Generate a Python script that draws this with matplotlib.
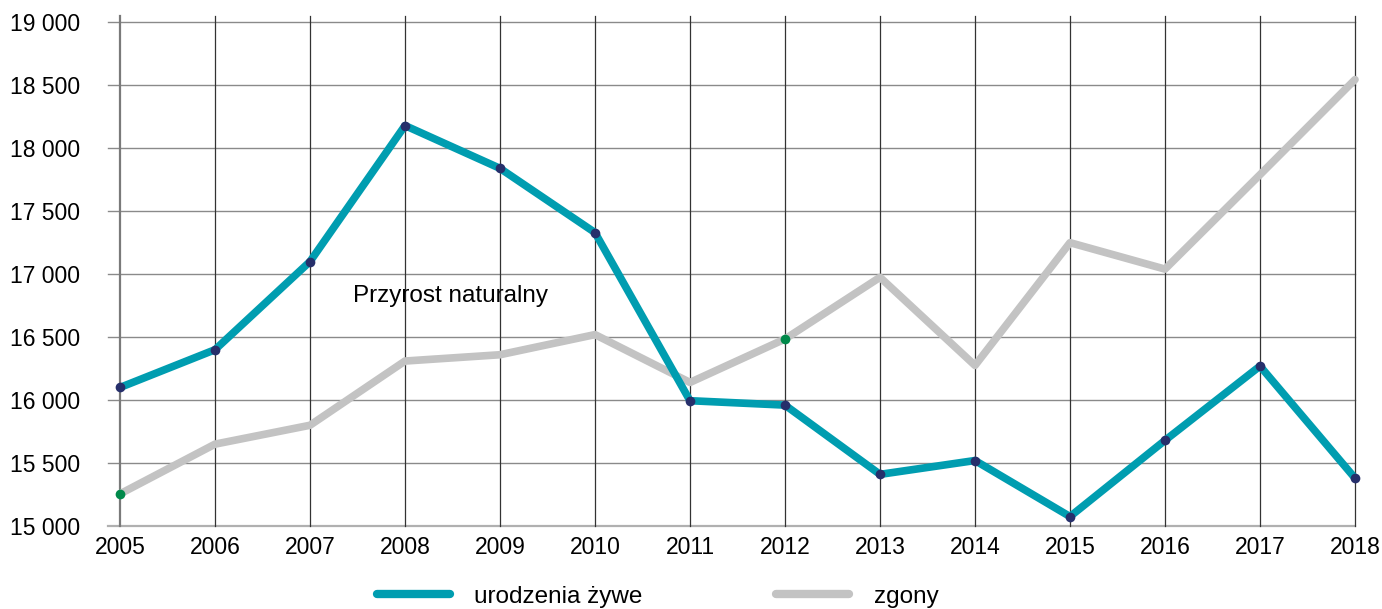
import matplotlib
matplotlib.use("Agg")
import matplotlib.pyplot as plt

plt.rcParams["font.family"] = ["Liberation Sans", "DejaVu Sans"]
plt.rcParams["font.size"] = 16

lata = [2005, 2006, 2007, 2008, 2009, 2010, 2011, 2012, 2013, 2014, 2015, 2016, 2017, 2018]
urodzenia = [16100, 16400, 17100, 18180, 17840, 17330, 15995, 15960, 15410, 15520, 15075, 15680, 16270, 15380]
zgony = [15255, 15650, 15800, 16310, 16360, 16520, 16140, 16485, 16975, 16275, 17250, 17040, 17790, 18545]
y_ticks = [15000, 15500, 16000, 16500, 17000, 17500, 18000, 18500, 19000]

teal = "#009DB0"
szary = "#C3C3C3"
granat = "#262F6B"
zielony = "#00894A"

fig = plt.figure(figsize=(13.82, 6.09), dpi=100)
ax = fig.add_axes([120 / 1382, 1 - 526 / 609, 1235 / 1382, 510 / 609])

ax.set_xlim(2005, 2018)
ax.set_ylim(15000, 19050)

# linie siatki
for v in y_ticks[1:]:
    ax.axhline(v, xmin=-0.0097, xmax=1, color="#8a8a8a", lw=1, clip_on=False, zorder=1)
ax.axhline(15000, xmin=-0.0097, xmax=1, color="#b0b0b0", lw=1.6, clip_on=False, zorder=1)
for r in lata[1:]:
    ax.axvline(r, color="#333333", lw=0.9, zorder=1, clip_on=False)
ax.axvline(2005, color="#7a7a7a", lw=1.6, zorder=1, clip_on=False)

ax.plot(lata, zgony, color=szary, lw=5.5, solid_capstyle="round", zorder=3, label="zgony", clip_on=False)
ax.plot([lata[0], lata[7]], [zgony[0], zgony[7]], "o", color=zielony, ms=7, mec="none", zorder=5, clip_on=False)
ax.plot(lata, urodzenia, color=teal, lw=5.5, solid_capstyle="round", zorder=4, label="urodzenia żywe", clip_on=False)
ax.plot(lata, urodzenia, "o", color=granat, ms=7, mec="none", zorder=5, clip_on=False)

ax.text(2007.45, 16830, "Przyrost naturalny", ha="left", va="center", fontsize=17.5)

for s in ax.spines.values():
    s.set_visible(False)
ax.set_xticks(lata)
ax.set_xticklabels([str(r) for r in lata])
ax.set_yticks(y_ticks)
ax.set_yticklabels([f"{v // 1000} {v % 1000:03d}" for v in y_ticks])
ax.tick_params(axis="both", length=0, labelsize=16.5)
ax.tick_params(axis="y", pad=29)
ax.tick_params(axis="x", pad=7)

h, l = ax.get_legend_handles_labels()
leg = fig.legend(h[::-1], l[::-1], loc="center", bbox_to_anchor=(0.476, 0.02), ncol=2,
                 frameon=False, handlelength=3.0, handletextpad=1.0, columnspacing=5.5,
                 fontsize=17.5)
for line in leg.get_lines():
    line.set_linewidth(6)
    line.set_solid_capstyle("round")

fig.savefig("out.png", dpi=100)
